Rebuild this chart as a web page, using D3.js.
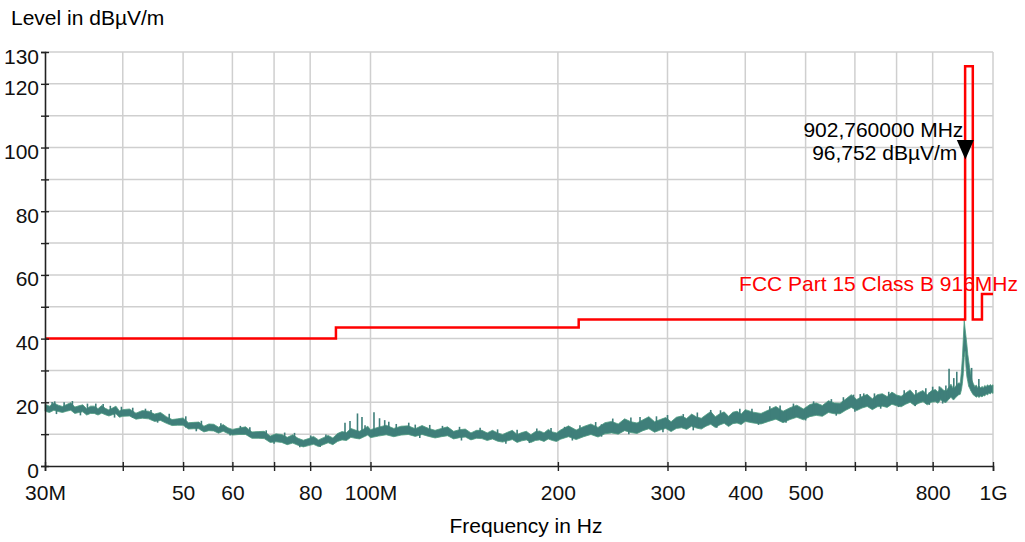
<!DOCTYPE html>
<html>
<head>
<meta charset="utf-8">
<script src="https://cdn.jsdelivr.net/npm/d3@7"></script>
<style>
  body { margin: 0; background: #fff; }
  text { font-family: "Liberation Sans", Arial, sans-serif; }
</style>
</head>
<body>
<div id="visual"></div>
<script>
// Frequency axis ticks (MHz) and their labels
const xTicks = [30, 40, 50, 60, 70, 80, 100, 200, 300, 400, 500, 600, 700, 800, 1000];
const xTickLabels = ["30M", "", "50", "60", "", "80", "100M", "200", "300", "400", "500", "", "", "800", "1G"];
const yTicks = [0, 10, 20, 30, 40, 50, 60, 70, 80, 90, 100, 110, 120, 130];
const yTickLabels = ["0", "", "20", "", "40", "", "60", "", "80", "", "100", "", "120", "130"];

// Measured spectrum: frequency (MHz), upper and lower edge of the trace (dBµV/m)
const traceFreq = [
  30, 30.5, 31, 31.5, 32, 32.5, 33, 33.5, 34, 34.5, 35, 35.5, 36, 36.5, 37, 37.5, 38, 38.5, 39, 39.5, 40,
  41, 42, 43, 44, 45, 46, 47, 48, 49, 50, 51, 52, 53, 54, 55, 56, 57, 58, 59, 60,
  61.5, 63, 64.5, 66, 67.5, 69, 70.5, 72, 73.5, 75, 76.5, 78, 79.5, 81, 82.5, 84, 85.5, 87, 88.5, 90, 91.5, 93, 94.5, 96, 97.5, 99,
  100, 103, 106, 109, 112, 115, 118, 121, 124, 127, 130, 133, 136, 139, 142, 145, 148, 151, 154, 157, 160, 163, 166, 169,
  172, 175, 178, 181, 184, 187, 190, 193, 196, 199,
  202, 208, 214, 220, 226, 232, 238, 244, 250, 256, 262, 268, 274, 280, 286, 292, 298, 304, 310, 316, 322, 328, 334, 340,
  346, 352, 358, 364, 370, 376, 382, 388, 394, 400,
  412, 424, 436, 448, 460, 472, 484, 496, 508, 520, 532, 544, 556, 568, 580, 592, 604, 616, 628, 640, 652, 664, 676, 688,
  700, 712, 724, 736, 748, 760, 772, 784, 796,
  808, 816, 824, 832, 840, 848, 856, 864, 872, 880, 886,
  890, 893, 896, 899, 902, 905, 908, 911, 914, 917, 920, 925, 930, 935, 940, 945, 950, 955, 960, 965, 970, 975, 980,
  985, 990, 995, 1000];
const traceMax = [
  19.4, 18.8, 19.8, 19.1, 18.7, 19.3, 19.9, 18.5, 18.9, 19.2, 18.0, 18.8, 18.8, 18.0, 19.0, 18.1, 17.6, 18.2, 18.8, 17.3, 17.7,
  17.9, 16.6, 17.4, 17.2, 16.3, 16.8, 15.5, 14.6, 14.8, 15.1, 13.6, 13.7, 13.8, 12.5, 13.2, 13.1, 12.2, 13.0, 12.0, 11.5,
  11.9, 12.3, 10.7, 10.8, 10.9, 9.4, 10.1, 9.9, 9.0, 9.8, 8.7, 8.1, 8.6, 9.3, 8.2, 8.9, 9.6, 8.8, 10.2, 10.8, 10.5, 11.8, 11.3, 10.9, 11.6, 12.5,
  11.4, 12.2, 12.8, 11.8, 12.5, 12.6, 11.7, 12.7, 11.8, 11.2, 11.8, 12.3, 10.9, 11.4, 11.6, 10.4, 11.2, 11.2, 10.4, 11.2, 10.4, 9.9, 10.6, 11.2,
  9.9, 10.5, 10.9, 9.8, 10.8, 11.0, 10.4, 11.5, 10.7, 10.4,
  11.3, 12.6, 11.3, 12.4, 13.2, 12.1, 13.6, 14.0, 13.2, 14.8, 13.9, 13.5, 14.5, 15.5, 13.9, 14.6, 15.2, 13.9, 15.3, 15.7, 14.9, 16.3, 15.4, 15.0,
  16.1, 17.1, 15.5, 16.4, 17.0, 15.6, 16.9, 17.2, 16.3, 17.7,
  16.9, 16.5, 17.6, 18.7, 17.2, 18.3, 19.1, 17.9, 19.3, 19.8, 19.0, 20.5, 19.8, 19.7, 21.0, 22.4, 20.9, 21.8, 22.5, 21.1, 22.4, 22.7, 21.8, 23.2,
  22.3, 21.9, 22.9, 23.9, 22.3, 23.1, 23.7, 22.3, 23.6,
  24.0, 23.2, 24.7, 23.9, 23.5, 24.6, 25.7, 24.2, 25.2, 26.1, 26.0,
  30.0, 34.0, 40.0, 45.8, 43.0, 40.6, 38.0, 35.0, 33.0, 31.0, 29.5, 27.0, 25.8, 25.0, 25.4, 24.6, 25.1, 24.5, 25.0, 24.6, 25.3, 24.9, 25.5,
  25.1, 25.6, 25.2, 25.5];
const traceMin = [
  17.2, 16.8, 17.5, 17.1, 16.8, 17.2, 17.5, 16.5, 16.8, 17.0, 16.0, 16.5, 16.5, 16.0, 16.6, 16.1, 15.7, 16.1, 16.4, 15.3, 15.6,
  15.7, 14.7, 15.0, 14.8, 14.0, 14.3, 13.4, 12.7, 12.8, 12.8, 11.6, 11.7, 11.7, 10.7, 11.1, 11.0, 10.3, 10.9, 10.2, 9.7,
  9.9, 9.9, 8.7, 8.7, 8.6, 7.4, 7.6, 7.4, 6.7, 7.2, 6.5, 6.0, 6.4, 6.8, 6.1, 6.7, 7.3, 6.7, 7.7, 8.2, 8.0, 9.0, 8.7, 8.5, 9.1, 9.7,
  8.9, 9.4, 9.8, 9.2, 9.7, 9.9, 9.3, 9.9, 9.3, 8.8, 9.2, 9.5, 8.5, 8.9, 9.1, 8.2, 8.7, 8.6, 8.0, 8.5, 7.8, 7.5, 7.9, 8.3,
  7.4, 7.9, 8.2, 7.4, 8.0, 8.2, 7.7, 8.5, 8.0, 7.7,
  8.4, 9.2, 8.3, 9.2, 9.9, 9.1, 10.1, 10.4, 10.0, 11.1, 10.5, 10.2, 11.1, 11.7, 10.6, 11.3, 11.8, 10.8, 11.8, 12.0, 11.5, 12.5, 11.9, 11.6,
  12.5, 13.1, 12.1, 12.9, 13.4, 12.4, 13.3, 13.5, 13.0, 14.0,
  13.5, 13.2, 14.0, 14.7, 13.6, 14.6, 15.3, 14.5, 15.5, 15.9, 15.6, 16.8, 16.4, 16.4, 17.5, 18.4, 17.4, 18.2, 18.7, 17.7, 18.6, 18.8, 18.4, 19.4,
  18.9, 18.6, 19.4, 20.0, 19.0, 19.7, 20.2, 19.2, 20.0,
  20.2, 19.7, 20.8, 20.2, 19.9, 20.8, 21.6, 20.7, 21.6, 22.3, 22.5,
  24.0, 26.0, 29.0, 34.0, 36.0, 31.0, 28.0, 26.5, 25.0, 24.5, 23.9, 23.0, 22.3, 22.0, 21.6, 21.9, 21.5, 22.0, 21.7, 22.1, 22.0, 22.6, 22.3,
  22.9, 22.6, 23.1, 22.8];

// Single spikes above the trace
const spikeFreq = [30.8, 31.1, 32.2, 33.2, 35.1, 36.2, 37.2, 38.2, 39.8, 41.5, 43.5, 44.4, 47.5, 50.5, 53.5, 57.5, 61.8, 64,
  68, 72.8, 75.5, 80.2, 84.8, 91, 92.7, 95.3, 96.9, 98, 101.3, 103.4, 105.4, 107, 110, 115.2, 118, 124.5, 130.5, 139,
  150, 160, 172, 185, 195, 205, 217, 230, 245, 262, 271, 288, 300, 318, 335, 352, 365, 392, 410, 438, 455, 478, 515,
  550, 575, 597, 612, 620, 645, 680, 720, 752, 780, 800, 820, 840, 850, 865, 874.6, 924, 949];
const spikeLevel = [20.1, 20.3, 20.0, 20.4, 19.6, 19.6, 19.5, 18.9, 18.6, 18.3, 18.0, 17.6, 16.4, 15.6, 14.2, 13.4, 12.6, 12.2,
  11.2, 10.5, 10.4, 9.6, 9.9, 13.6, 14.1, 16.5, 15.4, 12.8, 16.9, 15.0, 14.4, 13.9, 13.2, 13.6, 13.0, 12.9, 12.6, 12.3,
  12.0, 11.5, 11.4, 11.8, 11.9, 12.3, 12.8, 13.8, 14.9, 15.2, 15.4, 15.6, 16.0, 16.3, 16.8, 17.6, 17.5, 18.0, 18.0, 18.8, 19.0, 19.6, 20.3,
  21.0, 21.6, 22.4, 22.6, 22.8, 22.8, 23.3, 23.8, 23.9, 24.4, 24.9, 25.0, 25.3, 30.5, 27.6, 29.6, 30.8, 27.3];

// Single dips below the trace
const dipFreq = [31.3, 34.2, 38.8, 45.5, 52.5, 59.5, 70, 77, 83, 120, 140, 165, 180, 211, 235, 260, 295, 330, 360, 420,
  465, 500, 560, 600, 660, 705, 750, 790, 830];
const dipLevel = [16.3, 15.9, 15.2, 13.6, 10.9, 9.6, 7.0, 5.9, 6.0, 8.8, 8.0, 7.0, 7.2, 8.0, 9.2, 10.0, 10.6, 11.2, 12.0, 12.9,
  13.6, 14.3, 15.8, 17.0, 18.0, 18.5, 18.8, 19.2, 19.6];

// FCC Part 15 Class B limit with the 916 MHz band
const limitFreq = [30, 88, 88, 216, 216, 902, 902, 928, 928, 960, 960, 1000];
const limitLevel = [40, 40, 43.5, 43.5, 46, 46, 125.5, 125.5, 46, 46, 54, 54];

// Marker
const markerFreq = 902.76;
const markerLevel = 96.752;

const width = 1025, height = 542;
const margin = { top: 52, right: 32, bottom: 76, left: 45 };
const fontSize = "21px";
const traceColor = "#3f7f7a";

const svg = d3.select("#visual")
  .append("svg")
  .attr("width", width)
  .attr("height", height);

const x = d3.scaleLog()
  .domain([30, 1000])
  .range([margin.left, width - margin.right]);

const y = d3.scaleLinear()
  .domain([0, 130])
  .range([height - margin.bottom, margin.top]);

// Grid
svg.append("g")
  .selectAll("line")
  .data(xTicks.slice(1))
  .enter()
  .append("line")
  .attr("x1", d => x(d)).attr("x2", d => x(d))
  .attr("y1", y(0)).attr("y2", y(130))
  .attr("stroke", "#cfcfcf").attr("stroke-width", 1.5);

svg.append("g")
  .selectAll("line")
  .data(yTicks.slice(1))
  .enter()
  .append("line")
  .attr("x1", x(30)).attr("x2", x(1000))
  .attr("y1", d => y(d)).attr("y2", d => y(d))
  .attr("stroke", "#cfcfcf").attr("stroke-width", 1.5);

// Spectrum trace
const traceData = traceFreq.map((f, i) => ({ f: f, hi: traceMax[i], lo: traceMin[i] }));

svg.append("path")
  .datum(traceData)
  .attr("d", d3.area().x(d => x(d.f)).y0(d => y(d.lo)).y1(d => y(d.hi)))
  .attr("fill", traceColor)
  .attr("stroke", "#4c9c80")
  .attr("stroke-width", 0.8);

// spikes and dips are joined to the trace at that frequency
const nearest = d3.bisector(d => d.f).center;
svg.append("g")
  .selectAll("line")
  .data(spikeFreq.map((f, i) => ({ f: f, v: spikeLevel[i], base: traceData[nearest(traceData, f)].lo + 0.5 })))
  .enter()
  .append("line")
  .attr("x1", d => x(d.f)).attr("x2", d => x(d.f))
  .attr("y1", d => y(d.v)).attr("y2", d => y(d.base))
  .attr("stroke", traceColor)
  .attr("stroke-width", 1.6);

svg.append("g")
  .selectAll("line")
  .data(dipFreq.map((f, i) => ({ f: f, v: dipLevel[i], base: traceData[nearest(traceData, f)].hi - 0.5 })))
  .enter()
  .append("line")
  .attr("x1", d => x(d.f)).attr("x2", d => x(d.f))
  .attr("y1", d => y(d.v)).attr("y2", d => y(d.base))
  .attr("stroke", traceColor)
  .attr("stroke-width", 1.6);

// Limit line
svg.append("path")
  .datum(limitFreq.map((f, i) => [f, limitLevel[i]]))
  .attr("d", d3.line().x(d => x(d[0])).y(d => y(d[1])))
  .attr("fill", "none")
  .attr("stroke", "#ff0000")
  .attr("stroke-width", 2.5);

svg.append("text")
  .attr("x", 1018)
  .attr("y", 291)
  .attr("text-anchor", "end")
  .attr("fill", "#ff0000")
  .style("font-size", fontSize)
  .text("FCC Part 15 Class B 916MHz");

// Axes
const xAxis = svg.append("g")
  .attr("transform", "translate(0," + y(0) + ")")
  .call(d3.axisBottom(x).tickValues(xTicks).tickSize(5).tickFormat((d, i) => xTickLabels[i]));

const yAxis = svg.append("g")
  .attr("transform", "translate(" + x(30) + ",0)")
  .call(d3.axisLeft(y).tickValues(yTicks).tickSize(4).tickFormat((d, i) => yTickLabels[i]));

[xAxis, yAxis].forEach(g => {
  g.select(".domain").attr("stroke", "#222").attr("stroke-width", 1.6);
  g.selectAll(".tick line").attr("stroke", "#222").attr("stroke-width", 1.4);
  g.selectAll(".tick text").attr("fill", "#111").style("font-size", fontSize)
    .style("font-family", "'Liberation Sans', Arial, sans-serif");
});
xAxis.selectAll(".tick line").attr("y1", -4).attr("y2", 5);
xAxis.selectAll(".tick text").attr("y", 34).attr("dy", 0);
yAxis.selectAll(".tick line").attr("x1", -4).attr("x2", 4);
yAxis.selectAll(".tick text").attr("x", -6).attr("dy", 11);

// Marker
const mx = x(markerFreq), my = y(markerLevel);
svg.append("path")
  .attr("d", `M${mx - 8.5},${my - 18}L${mx + 8.5},${my - 18}L${mx},${my + 1.5}Z`)
  .attr("fill", "#000");

svg.append("text")
  .attr("x", mx - 2)
  .attr("y", 137)
  .attr("text-anchor", "end")
  .style("font-size", fontSize)
  .text("902,760000 MHz");

svg.append("text")
  .attr("x", mx - 8)
  .attr("y", 160)
  .attr("text-anchor", "end")
  .style("font-size", fontSize)
  .text("96,752 dBµV/m");

// Axis titles
svg.append("text")
  .attr("x", 11)
  .attr("y", 25)
  .style("font-size", fontSize)
  .text("Level in dBµV/m");

svg.append("text")
  .attr("x", 526)
  .attr("y", 533)
  .attr("text-anchor", "middle")
  .style("font-size", fontSize)
  .text("Frequency in Hz");
</script>
</body>
</html>
